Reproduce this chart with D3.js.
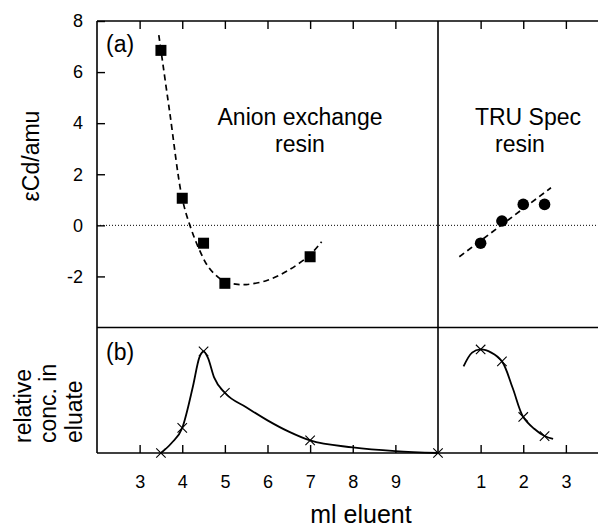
<!DOCTYPE html>
<html><head><meta charset="utf-8">
<script src="https://cdn.jsdelivr.net/npm/d3@7/dist/d3.min.js"></script>
<style>
body{margin:0;background:#fff;}
svg{display:block;}
text{font-family:"Liberation Sans",Arial,Helvetica,sans-serif;fill:#000;}
</style></head>
<body>
<svg id="c" width="598" height="530"></svg>
<script>
// ---- data ----
const anionX = [3.5, 4, 4.5, 5, 7];
const anionEps = [6.85, 1.06, -0.7, -2.27, -1.23];
const anionFitX = [3.45, 3.7, 4.0, 4.2, 4.4, 4.6, 4.8, 5.0, 5.25, 5.5, 6.0, 6.5, 7.0, 7.27];
const anionFitY = [7.45, 4.5, 1.05, -0.1, -0.95, -1.6, -1.97, -2.2, -2.3, -2.32, -2.15, -1.75, -1.15, -0.64];
const truX = [1, 1.5, 2, 2.5];
const truEps = [-0.7, 0.17, 0.82, 0.82];
const truFitX = [0.5, 2.65];
const truFitY = [-1.23, 1.47];
const anionConcX = [3.5, 4, 4.5, 5, 7, 10];
const anionConc = [0, 0.2, 0.81, 0.48, 0.10, 0];
const anionConcCurveX = [3.5, 3.75, 4, 4.25, 4.4, 4.5, 4.6, 4.75, 5, 5.5, 6, 6.5, 7, 8, 9, 10];
const anionConcCurveY = [0, 0.08, 0.2, 0.53, 0.76, 0.81, 0.76, 0.6, 0.48, 0.365, 0.26, 0.17, 0.10, 0.045, 0.015, 0];
const truConcX = [1, 1.5, 2, 2.5];
const truConc = [0.825, 0.73, 0.287, 0.135];
const truConcCurveX = [0.6, 0.8, 1, 1.25, 1.5, 1.75, 2, 2.25, 2.5, 2.7];
const truConcCurveY = [0.69, 0.8, 0.825, 0.8, 0.73, 0.52, 0.287, 0.195, 0.135, 0.112];
const leftTicks = [3, 4, 5, 6, 7, 8, 9];
const rightTicks = [1, 2, 3];
const yTicks = [-2, 0, 2, 4, 6, 8];

// ---- layout ----
const svg = d3.select("#c");
const L = 97, T = 21, MID = 327.5, B = 453, DIV = 438, R = 598;
const xA = d3.scaleLinear().domain([2, 10]).range([L, DIV]);
const xT = d3.scaleLinear().domain([0, (R - DIV) / ((DIV - L) / 8)]).range([DIV, R]);
const yTop = d3.scaleLinear().domain([-4, 8]).range([MID, T]);
const yBot = d3.scaleLinear().domain([0, 1]).range([B, MID]);
const fmt = d => String(d);

// axes
function styleAxis(g){
  g.select(".domain").remove();
  g.selectAll(".tick line").attr("stroke","#000").attr("stroke-width",1.4);
  g.selectAll(".tick text").attr("font-size",18).attr("font-family",'"Liberation Sans",Arial,sans-serif');
}
svg.append("g").attr("transform",`translate(0,${T})`)
  .call(d3.axisTop(xA).tickValues(leftTicks).tickSize(-8).tickFormat(""))
  .call(styleAxis);
svg.append("g").attr("transform",`translate(0,${T})`)
  .call(d3.axisTop(xT).tickValues(rightTicks).tickSize(-8).tickFormat(""))
  .call(styleAxis);
svg.append("g").attr("transform",`translate(0,${B})`)
  .call(d3.axisBottom(xA).tickValues(leftTicks).tickSize(-8).tickPadding(22).tickFormat(fmt))
  .call(styleAxis);
svg.append("g").attr("transform",`translate(0,${B})`)
  .call(d3.axisBottom(xT).tickValues(rightTicks).tickSize(-8).tickPadding(22).tickFormat(fmt))
  .call(styleAxis);
svg.append("g").attr("transform",`translate(${L},0)`)
  .call(d3.axisLeft(yTop).tickValues(yTicks).tickSize(-8).tickPadding(14).tickFormat(fmt))
  .call(styleAxis);

// frame
const frame = [[L,T,R,T],[L,MID,R,MID],[L,B,R,B],[L,T,L,B],[DIV,T,DIV,B]];
svg.append("g").selectAll("line").data(frame).join("line")
  .attr("x1",d=>d[0]).attr("y1",d=>d[1]).attr("x2",d=>d[2]).attr("y2",d=>d[3])
  .attr("stroke","#000").attr("stroke-width",1.6);

// zero dotted line
svg.append("line").attr("x1",L).attr("x2",R).attr("y1",yTop(0)).attr("y2",yTop(0))
  .attr("stroke","#000").attr("stroke-width",1).attr("stroke-dasharray","1,2");

// fitted curves (top)
const lineA = d3.line().x(d=>xA(d[0])).y(d=>yTop(d[1])).curve(d3.curveCatmullRom);
svg.append("path").datum(anionFitX.map((x,i)=>[x,anionFitY[i]])).attr("d",lineA)
  .attr("fill","none").attr("stroke","#000").attr("stroke-width",1.7).attr("stroke-dasharray","6,4");
const lineT = d3.line().x(d=>xT(d[0])).y(d=>yTop(d[1]));
svg.append("path").datum(truFitX.map((x,i)=>[x,truFitY[i]])).attr("d",lineT)
  .attr("fill","none").attr("stroke","#000").attr("stroke-width",1.7).attr("stroke-dasharray","6,4");

// markers top
const sq = 11;
svg.append("g").selectAll("rect").data(anionX.map((x,i)=>[x,anionEps[i]])).join("rect")
  .attr("x",d=>xA(d[0])-sq/2).attr("y",d=>yTop(d[1])-sq/2).attr("width",sq).attr("height",sq).attr("fill","#000");
svg.append("g").selectAll("circle").data(truX.map((x,i)=>[x,truEps[i]])).join("circle")
  .attr("cx",d=>xT(d[0])).attr("cy",d=>yTop(d[1])).attr("r",5.8).attr("fill","#000");

// bottom curves
const lineAB = d3.line().x(d=>xA(d[0])).y(d=>yBot(d[1])).curve(d3.curveMonotoneX);
svg.append("path").datum(anionConcCurveX.map((x,i)=>[x,anionConcCurveY[i]])).attr("d",lineAB)
  .attr("fill","none").attr("stroke","#000").attr("stroke-width",1.8);
const lineTB = d3.line().x(d=>xT(d[0])).y(d=>yBot(d[1])).curve(d3.curveCatmullRom);
svg.append("path").datum(truConcCurveX.map((x,i)=>[x,truConcCurveY[i]])).attr("d",lineTB)
  .attr("fill","none").attr("stroke","#000").attr("stroke-width",1.8);

// x markers
const xs = d3.symbol().type(d3.symbolX).size(60);
function crosses(data, sx){
  svg.append("g").selectAll("path").data(data).join("path")
    .attr("transform",d=>`translate(${sx(d[0])},${yBot(d[1])})`)
    .attr("d",xs).attr("fill","none").attr("stroke","#000").attr("stroke-width",1.1);
}
crosses(anionConcX.map((x,i)=>[x,anionConc[i]]), xA);
crosses(truConcX.map((x,i)=>[x,truConc[i]]), xT);

// texts
function txt(x,y,s,size,anchor){
  return svg.append("text").attr("x",x).attr("y",y).attr("font-size",size).attr("text-anchor",anchor||"start").text(s);
}
txt(106,52,"(a)",23);
txt(106,360,"(b)",23);
txt(300,125,"Anion exchange",23,"middle");
txt(300,151.5,"resin",23,"middle");
txt(528,125,"TRU Spec",23,"middle");
txt(520,151.5,"resin",23,"middle");
txt(361,523,"ml eluent",25,"middle");
svg.append("text").attr("transform","translate(38.5,156) rotate(-90)").attr("text-anchor","middle")
  .attr("font-size",23).text("εCd/amu");
[["relative",31],["conc. in",56],["eluate",82]].forEach(([s,x])=>{
  svg.append("text").attr("transform",`translate(${x},443) rotate(-90)`).attr("text-anchor","start")
    .attr("font-size",23).text(s);
});
</script>
</body></html>
